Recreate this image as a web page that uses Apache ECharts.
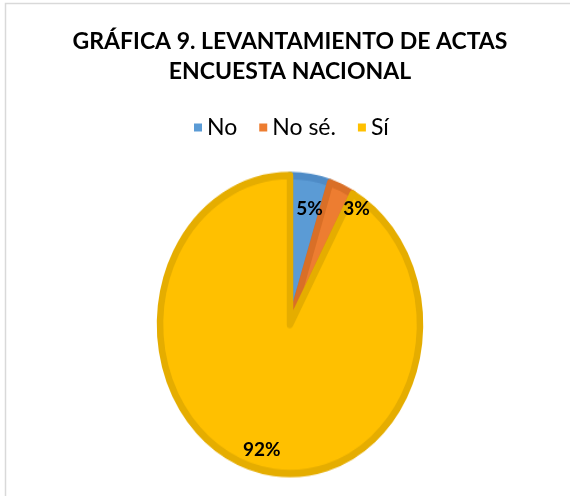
<!DOCTYPE html>
<html><head><meta charset="utf-8">
<script src="https://cdn.jsdelivr.net/npm/echarts@6/dist/echarts.min.js"></script>
<style>
html,body{margin:0;padding:0;background:#fff;}
#pie,#main{position:absolute;left:0;top:0;width:570px;height:496px;}
#pie{transform-origin:290px 324.5px;transform:scaleY(1.1466);}
</style></head><body>
<div id="pie"></div><div id="main"></div>
<script>
const categories = ['No', 'No sé.', 'Sí'];
const values = [5, 3, 92];
const titleLines = ['GRÁFICA 9. LEVANTAMIENTO DE ACTAS', 'ENCUESTA NACIONAL'];

const fills = ['#5B9BD5', '#ED7D31', '#FFC000'];
const borders = ['#4E8BC6', '#D96F27', '#E5AD00'];
const CX = 290, CY = 324.5, R = 130, SY = 1.1466;
const labelRadius = [0.79, 0.93, 0.87];
const labelAngleShift = [2, 10, 0];

const total = values.reduce((a, b) => a + b, 0);
function midAngle(i) {
  let s = 0;
  for (let k = 0; k < i; k++) s += values[k];
  return (s + values[i] / 2) / total * 360;
}

const pieChart = echarts.init(document.getElementById('pie'));
pieChart.setOption({
  animation: false,
  series: [{
    type: 'pie', center: [CX, CY], radius: R, startAngle: 90, clockwise: true, silent: true,
    label: { show: false }, labelLine: { show: false },
    data: categories.map((n, i) => ({
      name: n, value: values[i],
      itemStyle: { color: fills[i], borderColor: borders[i], borderWidth: 6.5 }
    }))
  }]
});

const main = echarts.init(document.getElementById('main'));
main.setOption({
  animation: false,
  backgroundColor: 'transparent',
  graphic: [{
    type: 'rect', silent: true,
    shape: { x: 5.5, y: 3.5, width: 700, height: 700 },
    style: { fill: 'none', stroke: '#D9D9D9', lineWidth: 1.5 }
  }],
  title: {
    text: titleLines.join('\n'), left: 290, textAlign: 'center', top: 27, padding: 0,
    textStyle: { fontFamily: 'Lato', fontWeight: 'bold', fontSize: 23, lineHeight: 30, color: '#000' }
  },
  legend: {
    top: 116, left: 194, padding: 0,
    itemWidth: 8, itemHeight: 8, itemGap: 22, icon: 'rect', selectedMode: false,
    textStyle: { fontFamily: 'Lato', fontSize: 23, color: '#000' },
    data: categories.map((n, i) => ({ name: n, itemStyle: { color: fills[i], borderWidth: 0, opacity: 1 } }))
  },
  series: [{
    type: 'pie', center: [CX, CY], radius: R, startAngle: 90, clockwise: true, silent: true,
    itemStyle: { color: 'rgba(0,0,0,0)', borderWidth: 0 },
    label: {
      show: true, position: 'inside',
      formatter: p => Math.round(p.percent) + '%',
      fontFamily: 'Lato', fontWeight: 'bold', fontSize: 19, color: '#000'
    },
    labelLine: { show: false },
    labelLayout: function (p) {
      const i = p.dataIndex;
      const a = (midAngle(i) + labelAngleShift[i]) * Math.PI / 180;
      const r = labelRadius[i] * R;
      return { x: CX + r * Math.sin(a), y: CY - r * Math.cos(a) * SY };
    },
    data: categories.map((n, i) => ({ name: n, value: values[i] }))
  }]
});
</script>
</body></html>
